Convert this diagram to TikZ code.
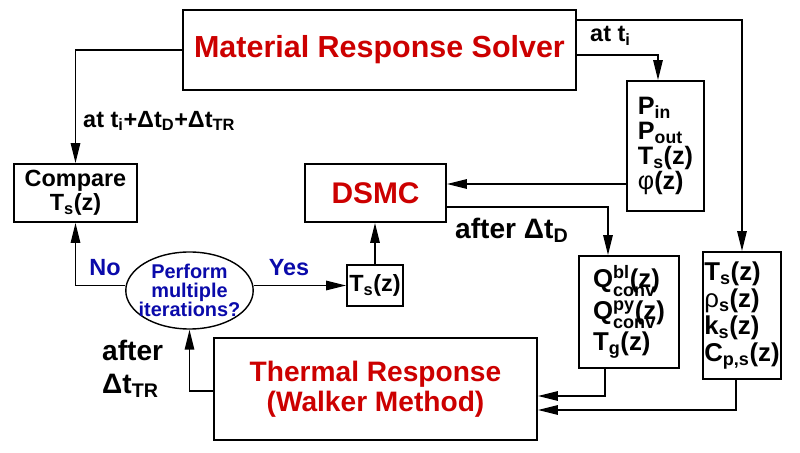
\documentclass[tikz,border=0pt]{standalone}
\usepackage{fontspec}
\setmainfont{Liberation Sans}
\usepackage{xcolor}
\usetikzlibrary{shapes.geometric,arrows.meta,positioning}
\definecolor{SolverRed}{RGB}{204,0,0}
\definecolor{QueryBlue}{RGB}{10,10,170}
\newcommand{\fs}[2]{\fontsize{#1}{#2}\selectfont\bfseries}
\newcommand{\lo}[1]{\raisebox{-0.22em}{\textsubscript{#1}}}
\tikzset{
  rbox/.style={draw,line width=1.5pt,text=SolverRed,inner sep=0pt,
               align=center},
  kbox/.style={draw,line width=1.5pt,inner sep=0pt,align=left},
  qnode/.style={draw,ellipse,line width=1.2pt,inner xsep=-5pt,inner ysep=-0.5pt,
               align=center,text=QueryBlue,font=\fs{17}{16}},
  arr/.style={-{Triangle[length=17pt,width=8pt]},line width=1.5pt},
  lbl/.style={inner sep=0pt,font=\fs{20}{22}},
}

\begin{document}
\begin{tikzpicture}[x=0.03cm,y=-0.03cm]
  \useasboundingbox (0,0) rectangle (800,453);

  \node[rbox, minimum width=393*0.8536pt, minimum height=80*0.8536pt, font=\fs{26}{28}]
    (mrs) at (379.5,50) {Material Response Solver};
  \node[rbox, minimum width=141*0.8536pt, minimum height=58*0.8536pt, font=\fs{25.5}{28}]
    (dsmc) at (375.5,193) {DSMC};
  \node[rbox, minimum width=323*0.8536pt, minimum height=102*0.8536pt, font=\fs{24}{26}]
    (tr) at (375.5,389) {Thermal Response\\(Walker Method)};

  \node[kbox, minimum width=77*0.8536pt, minimum height=130*0.8536pt, font=\fs{21.5}{21.5}]
    (par) at (665.5,146) {P\textsubscript{in}\\P\textsubscript{out}\\T\textsubscript{s}(z)\\{\mdseries φ}(z)};
  \node[kbox, minimum width=100*0.8536pt, minimum height=112*0.8536pt, font=\fs{22}{27}]
    (heat) at (629,312) {Q\rlap{\lo{conv}}\textsuperscript{bl}(z)\\Q\rlap{\lo{conv}}\textsuperscript{py}(z)\\T\textsubscript{g}(z)};
  \node[kbox, minimum width=78*0.8536pt, minimum height=127*0.8536pt, font=\fs{22}{23}]
    (prop) at (742,315.5) {T\textsubscript{s}(z)\\{\mdseries ρ}\textsubscript{s}(z)\\k\textsubscript{s}(z)\\C\textsubscript{p,s}(z)};
  \node[kbox, align=center, minimum width=123*0.8536pt, minimum height=58*0.8536pt, font=\fs{20}{20.5}]
    (cmp) at (75.5,193) {Compare\\T\textsubscript{s}(z)};
  \node[kbox, minimum width=56*0.8536pt, minimum height=41*0.8536pt, font=\fs{20}{22}]
    (tsz) at (375,285.5) {T\textsubscript{s}(z)};
  \node[qnode, minimum width=115*0.8536pt, minimum height=77*0.8536pt]
    (iter) at (189.5,290.5) {Perform\\multiple\\iterations?};

  % solver outputs
  \draw[arr] (mrs.west) -| (cmp.north);
  \draw[arr] (mrs.east |- 0,20) -| (prop.north);
  \draw[arr] (mrs.east |- 0,55) -| (par.north -| 658,0);
  \draw[arr] (par.west |- 0,184) -- (dsmc.east |- 0,184);
  \draw[arr] (dsmc.east |- 0,207) -| (heat.north -| 608,0);
  \draw[arr] (heat.south -| 605,0) |- (tr.east |- 0,396);
  \draw[arr] (prop.south -| 736,0) |- (tr.east |- 0,410);
  \draw[arr] (tr.west |- 0,391) -| (iter.south);
  \draw[arr] (iter.west |- tsz.west) -| (cmp.south);
  \draw[arr] (iter.east |- tsz.west) -- (tsz.west);
  \draw[arr] (tsz.north) -- (tsz.north |- dsmc.south);

  % labels
  \node[lbl, anchor=west] (lti) at (590,36) {at t\textsubscript{i}};
  \node[lbl, anchor=west] (ltot) at (83,121) {at t\textsubscript{i}+Δt\textsubscript{D}+Δt\textsubscript{TR}};
  \node[lbl, anchor=west, font=\fs{24}{28}] (ldsmc) at (455,230) {after Δt\textsubscript{D}};
  \node[lbl, anchor=west, align=left, font=\fs{24}{28}] (ltr) at (102,369) {after\\Δt\textsubscript{TR}};
  \node[lbl, text=QueryBlue] (lno) at (105,268) {No};
  \node[lbl, text=QueryBlue] (lyes) at (289,268) {Yes};
\end{tikzpicture}
\end{document}
